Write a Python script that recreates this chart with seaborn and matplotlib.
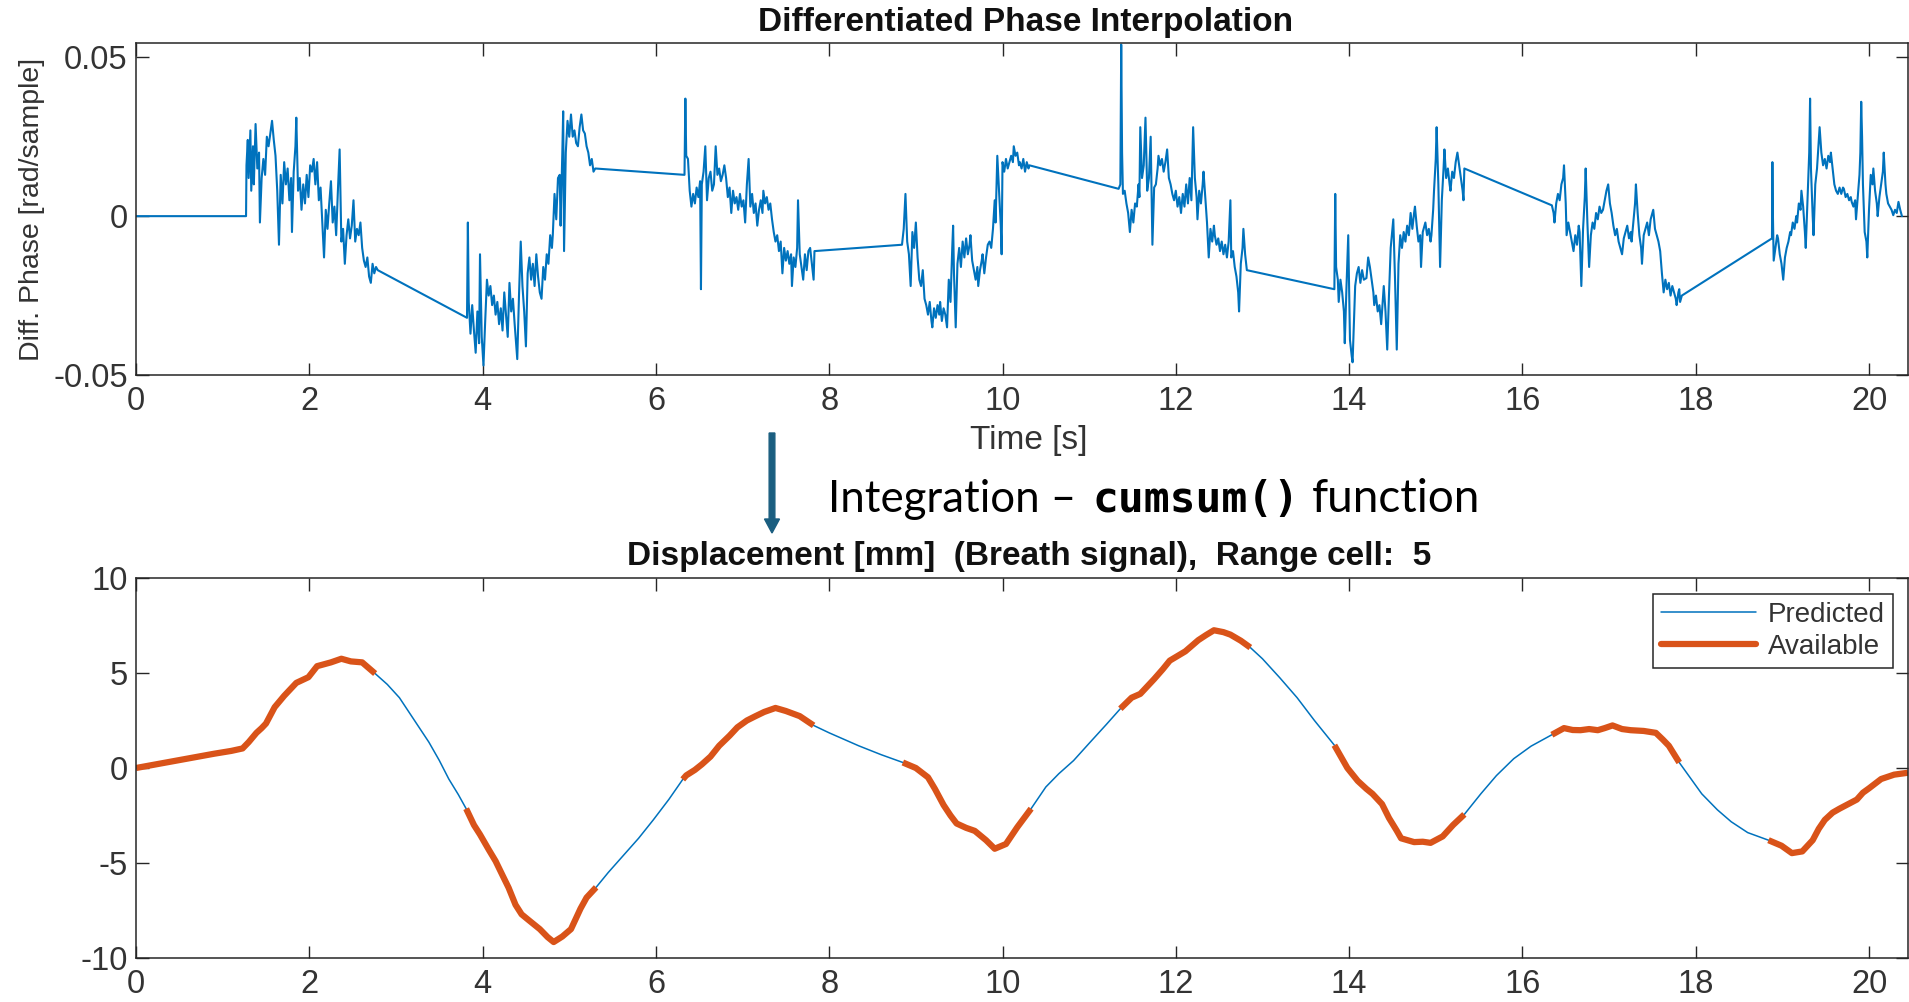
import numpy as np
import pandas as pd
import matplotlib
matplotlib.use("Agg")
import matplotlib.pyplot as plt
from matplotlib.lines import Line2D
import seaborn as sns

# ---------------- data ----------------
# Differentiated phase [rad/sample] vs time [s]
phase_t = [
    0.0, 1.27,
    1.275, 1.29, 1.30, 1.32, 1.33, 1.35, 1.36, 1.38, 1.40, 1.42, 1.43, 1.45, 1.47, 1.49, 1.51, 1.53,
    1.55, 1.57, 1.59, 1.61, 1.63, 1.65, 1.67, 1.69, 1.71, 1.73, 1.75, 1.77, 1.79, 1.80, 1.82, 1.84,
    1.85, 1.87, 1.89, 1.91, 1.93, 1.95, 1.97, 1.99, 2.01, 2.03, 2.05, 2.07, 2.09, 2.11, 2.13, 2.15,
    2.17, 2.19, 2.21, 2.23, 2.25, 2.27, 2.29, 2.31, 2.33, 2.35, 2.37, 2.39, 2.41, 2.43, 2.45, 2.47,
    2.49, 2.51, 2.53, 2.55, 2.57, 2.59, 2.61, 2.63, 2.65, 2.67, 2.69, 2.71, 2.73, 2.75, 2.77, 2.79,
    3.82, 3.83, 3.84, 3.86, 3.88, 3.90, 3.92, 3.94, 3.96, 3.97, 3.99, 4.01, 4.03, 4.05, 4.07, 4.09,
    4.11, 4.13, 4.15, 4.17, 4.19, 4.21, 4.23, 4.25, 4.27, 4.29, 4.31, 4.33, 4.35, 4.37, 4.40, 4.42,
    4.44, 4.46, 4.48, 4.50, 4.52, 4.54, 4.56, 4.58, 4.60, 4.62, 4.64, 4.66, 4.68, 4.70, 4.72, 4.74,
    4.76, 4.78, 4.80, 4.81, 4.83, 4.85, 4.87, 4.89, 4.90, 4.92, 4.93, 4.94, 4.96, 4.98, 5.00, 5.02,
    5.04, 5.06, 5.08, 5.10, 5.12, 5.14, 5.16, 5.18, 5.20, 5.22, 5.24, 5.26, 5.28, 5.30,
    6.33, 6.34, 6.35, 6.37, 6.39, 6.41, 6.43, 6.45, 6.47, 6.49, 6.51, 6.52, 6.53, 6.55, 6.57, 6.59,
    6.61, 6.63, 6.65, 6.67, 6.69, 6.71, 6.73, 6.75, 6.77, 6.79, 6.81, 6.83, 6.85, 6.87, 6.89, 6.91,
    6.93, 6.95, 6.97, 6.99, 7.01, 7.03, 7.05, 7.07, 7.09, 7.11, 7.13, 7.15, 7.17, 7.19, 7.21, 7.23,
    7.24, 7.26, 7.28, 7.30, 7.32, 7.34, 7.36, 7.38, 7.40, 7.42, 7.44, 7.46, 7.48, 7.50, 7.52, 7.54,
    7.56, 7.57, 7.59, 7.61, 7.63, 7.64, 7.66, 7.68, 7.70, 7.72, 7.74, 7.76, 7.78, 7.80, 7.82, 7.83,
    8.84, 8.86, 8.88, 8.90, 8.92, 8.94, 8.96, 8.98, 9.00, 9.02, 9.04, 9.06, 9.08, 9.10, 9.12, 9.14,
    9.16, 9.18, 9.19, 9.21, 9.23, 9.25, 9.27, 9.28, 9.30, 9.32, 9.34, 9.36, 9.38, 9.40, 9.42, 9.43,
    9.44, 9.46, 9.48, 9.50, 9.52, 9.54, 9.56, 9.58, 9.60, 9.62, 9.63, 9.65, 9.67, 9.69, 9.71, 9.72,
    9.74, 9.76, 9.77, 9.79, 9.81, 9.83, 9.85, 9.87, 9.89, 9.91, 9.92, 9.94, 9.96, 9.98, 9.99, 10.00,
    10.02, 10.04, 10.06, 10.08, 10.10, 10.12, 10.13, 10.15, 10.17, 10.19, 10.20, 10.22, 10.24, 10.26,
    10.28, 10.30, 10.31,
    11.34, 11.36, 11.37, 11.38, 11.39, 11.41, 11.43, 11.45, 11.47, 11.49, 11.51, 11.53, 11.55, 11.57,
    11.58, 11.59, 11.61, 11.63, 11.65, 11.67, 11.69, 11.71, 11.73, 11.75, 11.77, 11.79, 11.80, 11.82,
    11.84, 11.86, 11.88, 11.90, 11.92, 11.94, 11.96, 11.98, 12.00, 12.02, 12.04, 12.06, 12.08, 12.10,
    12.12, 12.14, 12.16, 12.18, 12.20, 12.22, 12.24, 12.25, 12.27, 12.29, 12.31, 12.32, 12.34, 12.36,
    12.38, 12.40, 12.42, 12.44, 12.45, 12.47, 12.49, 12.51, 12.53, 12.55, 12.57, 12.59, 12.61, 12.63,
    12.64, 12.66, 12.68, 12.70, 12.72, 12.73, 12.75, 12.77, 12.78, 12.80, 12.82,
    13.83, 13.84, 13.85, 13.87, 13.88, 13.90, 13.92, 13.94, 13.95, 13.97, 13.99, 14.01, 14.03, 14.04,
    14.06, 14.07, 14.09, 14.11, 14.13, 14.15, 14.17, 14.20, 14.22, 14.24, 14.26, 14.28, 14.29, 14.31,
    14.33, 14.35, 14.37, 14.39, 14.40, 14.42, 14.44, 14.46, 14.48, 14.50, 14.51, 14.53, 14.55, 14.57,
    14.59, 14.61, 14.63, 14.65, 14.67, 14.69, 14.71, 14.73, 14.75, 14.76, 14.78, 14.80, 14.82, 14.83,
    14.85, 14.87, 14.88, 14.90, 14.92, 14.94, 14.95, 14.97, 14.98, 15.00, 15.01, 15.03, 15.05, 15.07,
    15.09, 15.10, 15.12, 15.14, 15.16, 15.17, 15.19, 15.21, 15.23, 15.25, 15.27, 15.29, 15.31, 15.32,
    15.33,
    16.34, 16.36, 16.37, 16.39, 16.41, 16.43, 16.45, 16.47, 16.48, 16.50, 16.51, 16.53, 16.55, 16.57,
    16.59, 16.61, 16.63, 16.65, 16.66, 16.68, 16.70, 16.72, 16.73, 16.75, 16.77, 16.79, 16.81, 16.83,
    16.85, 16.87, 16.89, 16.91, 16.93, 16.95, 16.97, 16.99, 17.01, 17.03, 17.05, 17.07, 17.09, 17.11,
    17.13, 17.15, 17.17, 17.19, 17.21, 17.23, 17.25, 17.26, 17.28, 17.30, 17.31, 17.33, 17.35, 17.37,
    17.38, 17.40, 17.42, 17.44, 17.46, 17.48, 17.50, 17.51, 17.53, 17.55, 17.57, 17.59, 17.61, 17.63,
    17.65, 17.67, 17.69, 17.71, 17.73, 17.75, 17.77, 17.78, 17.80, 17.81, 17.82, 17.84,
    18.88, 18.885, 18.89, 18.90, 18.92, 18.94, 18.95, 18.97, 18.99, 19.01, 19.03, 19.05, 19.07, 19.09,
    19.10, 19.12, 19.14, 19.16, 19.17, 19.19, 19.21, 19.22, 19.24, 19.26, 19.27, 19.29, 19.31, 19.32,
    19.33, 19.35, 19.36, 19.38, 19.40, 19.42, 19.43, 19.45, 19.47, 19.49, 19.51, 19.53, 19.55, 19.56,
    19.58, 19.60, 19.62, 19.64, 19.66, 19.68, 19.70, 19.71, 19.73, 19.75, 19.77, 19.79, 19.80, 19.82,
    19.84, 19.85, 19.87, 19.89, 19.90, 19.91, 19.92, 19.93, 19.95, 19.97, 19.98, 20.00, 20.02, 20.04,
    20.05, 20.07, 20.09, 20.10, 20.12, 20.14, 20.16, 20.17, 20.19, 20.20, 20.22, 20.24, 20.26, 20.28,
    20.30, 20.32, 20.34, 20.36, 20.38,
]
phase_v = [
    0.0, 0.0,
    0.016, 0.024, 0.012, 0.027, 0.008, 0.022, 0.010, 0.029, 0.015, 0.020, -0.002, 0.012, 0.018, 0.013, 0.025, 0.022,
    0.026, 0.030, 0.024, 0.019, 0.008, -0.009, 0.013, 0.004, 0.017, 0.010, 0.015, 0.005, 0.012, -0.005, 0.014, 0.022,
    0.031, 0.008, 0.012, 0.002, 0.010, 0.004, 0.013, 0.006, 0.016, 0.014, 0.018, 0.010, 0.017, 0.005, 0.009, -0.002,
    -0.013, 0.002, -0.004, 0.004, 0.011, -0.002, 0.003, -0.006, 0.008, 0.021, -0.008, -0.004, -0.015, -0.006, -0.001, -0.007,
    -0.003, 0.005, -0.008, -0.004, -0.006, -0.002, -0.010, -0.014, -0.016, -0.013, -0.019, -0.021, -0.015, -0.018, -0.016, -0.017,
    -0.032, -0.002, -0.027, -0.037, -0.028, -0.036, -0.043, -0.030, -0.040, -0.012, -0.038, -0.047, -0.033, -0.020, -0.025, -0.022,
    -0.028, -0.025, -0.031, -0.027, -0.034, -0.029, -0.036, -0.024, -0.031, -0.038, -0.021, -0.030, -0.026, -0.034, -0.045, -0.025,
    -0.008, -0.022, -0.030, -0.041, -0.018, -0.013, -0.020, -0.015, -0.022, -0.012, -0.019, -0.024, -0.026, -0.016, -0.020, -0.012,
    -0.015, -0.006, -0.010, -0.006, 0.007, -0.001, 0.012, 0.013, -0.003, 0.020, 0.033, -0.011, 0.020, 0.030, 0.025, 0.032,
    0.025, 0.027, 0.023, 0.022, 0.028, 0.032, 0.027, 0.026, 0.022, 0.020, 0.016, 0.018, 0.014, 0.015,
    0.013, 0.037, 0.019, 0.018, 0.008, 0.003, 0.007, 0.004, 0.009, 0.006, 0.011, -0.023, 0.010, 0.014, 0.022, 0.005,
    0.012, 0.014, 0.008, 0.010, 0.022, 0.013, 0.015, 0.011, 0.013, 0.016, 0.012, 0.006, 0.009, 0.001, 0.008, 0.004,
    0.006, 0.002, 0.007, 0.003, 0.005, -0.002, 0.010, 0.018, 0.003, 0.007, 0.001, 0.004, -0.003, 0.002, 0.005, 0.001,
    0.008, 0.004, 0.006, 0.002, 0.004, -0.001, -0.005, -0.008, -0.006, -0.011, -0.008, -0.018, -0.010, -0.014, -0.011, -0.015,
    -0.012, -0.022, -0.013, -0.016, -0.010, 0.005, -0.012, -0.016, -0.020, -0.012, -0.017, -0.011, -0.010, -0.015, -0.020, -0.011,
    -0.009, -0.004, 0.007, -0.008, -0.012, -0.022, -0.005, -0.010, -0.002, -0.013, -0.020, -0.022, -0.017, -0.026, -0.028, -0.031,
    -0.027, -0.033, -0.035, -0.029, -0.032, -0.028, -0.031, -0.027, -0.033, -0.029, -0.031, -0.035, -0.020, -0.027, -0.010, -0.003,
    -0.018, -0.035, -0.015, -0.010, -0.016, -0.008, -0.013, -0.007, -0.012, -0.009, -0.006, -0.014, -0.017, -0.020, -0.016, -0.022,
    -0.017, -0.014, -0.012, -0.018, -0.013, -0.009, -0.008, -0.010, -0.004, 0.005, -0.002, 0.019, 0.008, -0.003, -0.012, 0.017,
    0.014, 0.018, 0.015, 0.017, 0.019, 0.017, 0.022, 0.019, 0.020, 0.016, 0.017, 0.015, 0.018, 0.014,
    0.017, 0.015, 0.016,
    0.0086, 0.010, 0.054, 0.020, 0.007, 0.008, 0.004, 0.001, -0.005, 0.002, -0.002, 0.004, 0.003, 0.010,
    0.006, 0.028, 0.012, 0.016, 0.031, 0.008, 0.012, 0.025, -0.009, 0.009, 0.010, 0.015, 0.019, 0.016,
    0.018, 0.014, 0.017, 0.021, 0.012, 0.010, 0.007, 0.005, 0.008, 0.003, 0.006, 0.001, 0.007, 0.003,
    0.010, 0.004, 0.012, 0.005, 0.028, 0.012, 0.006, -0.001, 0.008, 0.004, 0.010, 0.014, 0.006, -0.002,
    -0.013, -0.004, -0.008, -0.003, -0.006, -0.009, -0.007, -0.011, -0.008, -0.012, -0.009, -0.013, -0.008, 0.005,
    -0.013, -0.011, -0.016, -0.019, -0.024, -0.030, -0.015, -0.010, -0.004, -0.012, -0.017,
    -0.023, 0.007, -0.016, -0.020, -0.027, -0.020, -0.024, -0.030, -0.040, -0.022, -0.006, -0.039, -0.044, -0.046,
    -0.030, -0.022, -0.018, -0.016, -0.021, -0.017, -0.020, -0.0195, -0.013, -0.016, -0.020, -0.024, -0.028, -0.025,
    -0.030, -0.028, -0.034, -0.026, -0.022, -0.030, -0.042, -0.025, -0.010, -0.004, -0.001, -0.020, -0.042, -0.015,
    -0.006, -0.010, -0.005, -0.008, -0.003, -0.006, 0.001, -0.004, 0.001, 0.003, -0.003, -0.008, -0.006, -0.016,
    -0.005, -0.003, -0.002, -0.006, -0.004, -0.008, -0.006, 0.002, 0.008, 0.018, 0.028, 0.010, -0.016, 0.005,
    0.015, 0.021, 0.012, 0.015, 0.010, 0.008, 0.014, 0.012, 0.017, 0.020, 0.016, 0.012, 0.008, 0.005,
    0.015,
    0.0034, 0.001, -0.002, 0.004, 0.007, 0.005, 0.010, 0.012, 0.016, 0.004, -0.006, -0.002, -0.005, -0.008,
    -0.011, -0.006, -0.009, -0.003, -0.005, -0.022, -0.004, 0.006, 0.015, -0.002, -0.016, -0.006, -0.002, -0.004,
    0.001, -0.001, 0.003, 0.001, 0.002, 0.005, 0.008, 0.010, 0.004, 0.001, -0.003, -0.006, -0.004, -0.008,
    -0.010, -0.012, -0.007, -0.005, -0.003, -0.007, -0.005, -0.008, -0.002, 0.004, 0.010, 0.001, -0.006, -0.010,
    -0.015, -0.006, -0.004, -0.002, -0.006, -0.001, 0.001, 0.002, -0.004, -0.006, -0.008, -0.011, -0.018, -0.024,
    -0.020, -0.023, -0.021, -0.025, -0.022, -0.024, -0.026, -0.028, -0.024, -0.023, -0.027, -0.025,
    -0.007, 0.017, 0.002, -0.014, -0.010, -0.006, -0.007, -0.012, -0.015, -0.020, -0.013, -0.010, -0.008, -0.005,
    -0.006, -0.002, -0.004, 0.000, -0.002, 0.004, 0.002, 0.008, 0.003, -0.005, -0.010, 0.005, 0.020, 0.037,
    0.015, 0.000, -0.006, 0.010, 0.015, 0.024, 0.028, 0.020, 0.016, 0.018, 0.015, 0.019, 0.017, 0.020,
    0.015, 0.010, 0.008, 0.007, 0.009, 0.007, 0.009, 0.0086, 0.006, 0.007, 0.005, 0.006, 0.0045, 0.003,
    0.005, -0.001, 0.006, 0.013, 0.020, 0.036, 0.025, 0.010, -0.005, -0.008, -0.013, 0.002, 0.013, 0.010,
    0.015, 0.008, 0.004, 0.000, 0.006, 0.010, 0.014, 0.020, 0.010, 0.007, 0.004, 0.003, 0.002, 0.0003,
    0.002, 0.001, 0.0045, 0.002, 0.000,
]

# Displacement [mm] vs time [s]
disp_t = [
    0.0, 0.3, 0.6, 0.9, 1.1, 1.23, 1.3, 1.39, 1.45, 1.5, 1.6, 1.71, 1.85, 1.99, 2.09, 2.25, 2.37, 2.48, 2.61, 2.76,
    2.9, 3.04, 3.2, 3.38, 3.5, 3.61, 3.72, 3.81,
    3.9, 3.97, 4.07, 4.15, 4.23, 4.3, 4.38, 4.45, 4.53, 4.66, 4.75, 4.82, 4.92, 5.02, 5.13, 5.2, 5.31,
    5.45, 5.61, 5.8, 5.97, 6.15, 6.31,
    6.35, 6.45, 6.53, 6.63, 6.73, 6.85, 6.94, 7.05, 7.15, 7.25, 7.38, 7.5, 7.66, 7.82,
    8.0, 8.2, 8.34, 8.6, 8.85,
    9.0, 9.14, 9.22, 9.32, 9.4, 9.47, 9.58, 9.68, 9.81, 9.91, 10.04, 10.17, 10.33,
    10.5, 10.65, 10.82, 11.0, 11.2, 11.36,
    11.49, 11.59, 11.75, 11.85, 11.93, 12.11, 12.26, 12.35, 12.44, 12.55, 12.63, 12.75, 12.86,
    13.0, 13.2, 13.4, 13.6, 13.83,
    13.98, 14.1, 14.2, 14.27, 14.38, 14.46, 14.55, 14.6, 14.75, 14.85, 14.94, 15.08, 15.2, 15.33,
    15.52, 15.7, 15.9, 16.1, 16.34,
    16.48, 16.58, 16.67, 16.77, 16.87, 16.95, 17.04, 17.15, 17.25, 17.4, 17.54, 17.62, 17.69, 17.81,
    17.95, 18.07, 18.25, 18.41, 18.6, 18.84,
    18.99, 19.11, 19.23, 19.35, 19.42, 19.49, 19.58, 19.66, 19.76, 19.86, 19.93, 20.0, 20.14, 20.29, 20.45,
]
disp_y = [
    0.0, 0.25, 0.5, 0.75, 0.9, 1.03, 1.36, 1.85, 2.1, 2.34, 3.2, 3.8, 4.48, 4.78, 5.36, 5.56, 5.75, 5.61, 5.56, 4.97,
    4.4, 3.7, 2.6, 1.36, 0.4, -0.58, -1.4, -2.14,
    -3.0, -3.5, -4.29, -4.9, -5.65, -6.3, -7.2, -7.7, -8.0, -8.48, -8.9, -9.16, -8.87, -8.48, -7.4, -6.82, -6.28,
    -5.5, -4.68, -3.7, -2.73, -1.65, -0.6,
    -0.39, -0.1, 0.19, 0.6, 1.17, 1.7, 2.14, 2.5, 2.73, 2.95, 3.16, 3.0, 2.73, 2.24,
    1.85, 1.45, 1.17, 0.7, 0.29,
    0.0, -0.49, -1.1, -1.95, -2.5, -2.92, -3.15, -3.31, -3.8, -4.25, -4.0, -3.12, -2.14,
    -1.0, -0.3, 0.39, 1.3, 2.3, 3.12,
    3.7, 3.9, 4.68, 5.2, 5.65, 6.14, 6.73, 7.0, 7.25, 7.15, 7.02, 6.7, 6.34,
    5.75, 4.75, 3.7, 2.5, 1.2,
    0.0, -0.68, -1.1, -1.36, -1.9, -2.63, -3.3, -3.7, -3.9, -3.88, -3.94, -3.6, -3.0, -2.44,
    -1.36, -0.4, 0.49, 1.15, 1.75,
    2.1, 2.0, 1.99, 2.05, 1.99, 2.1, 2.24, 2.05, 1.99, 1.95, 1.85, 1.5, 1.17, 0.29,
    -0.6, -1.36, -2.2, -2.83, -3.4, -3.8,
    -4.09, -4.48, -4.39, -3.8, -3.2, -2.73, -2.35, -2.14, -1.9, -1.66, -1.3, -1.07, -0.58, -0.35, -0.25,
]
# time intervals where measured ("Available") data exist
avail_start = [0.0, 3.81, 6.31, 8.85, 11.36, 13.83, 16.34, 18.84]
avail_end = [2.76, 5.31, 7.82, 10.33, 12.86, 15.33, 17.81, 20.45]

x_ticks = [0, 2, 4, 6, 8, 10, 12, 14, 16, 18, 20]
phase_ticks = [-0.05, 0, 0.05]
phase_ticklabels = ["-0.05", "0", "0.05"]
disp_ticks = [-10, -5, 0, 5, 10]
disp_ticklabels = ["-10", "-5", "0", "5", "10"]

# ---------------- style ----------------
BLUE = "#0072BD"
ORANGE = "#D95319"
AXC = "#262626"
TXT = "#333333"

sns.set_theme(style="white")
plt.rcParams["font.family"] = ["Liberation Sans", "DejaVu Sans"]
plt.rcParams["axes.unicode_minus"] = False

W, H = 1909, 1002
fig = plt.figure(figsize=(W / 100, H / 100), dpi=100)
fig.patch.set_facecolor("white")


def axrect(l, t, r, b):
    return [l / W, 1 - b / H, (r - l) / W, (b - t) / H]


ax1 = fig.add_axes(axrect(136, 43, 1908, 375))
ax2 = fig.add_axes(axrect(136, 578, 1908, 958))

# top: differentiated phase
df_phase = pd.DataFrame({"t": phase_t, "v": phase_v})
sns.lineplot(data=df_phase, x="t", y="v", ax=ax1, color=BLUE, lw=1.5,
             estimator=None, sort=False, legend=False)

# bottom: displacement
df_disp = pd.DataFrame({"t": disp_t, "y": disp_y})
sns.lineplot(data=df_disp, x="t", y="y", ax=ax2, color=BLUE, lw=1.1,
             estimator=None, sort=False, legend=False)
for s, e in zip(avail_start, avail_end):
    seg = df_disp[(df_disp["t"] >= s - 1e-9) & (df_disp["t"] <= e + 1e-9)]
    sns.lineplot(data=seg, x="t", y="y", ax=ax2, color=ORANGE, lw=4.5,
                 estimator=None, sort=False, legend=False,
                 solid_capstyle="butt", solid_joinstyle="round")

for ax in (ax1, ax2):
    ax.set_xlim(0, 20.45)
    ax.set_xticks(x_ticks)
    ax.set_xticklabels([str(v) for v in x_ticks])
    ax.set_xlabel("")
    ax.set_ylabel("")
    ax.set_facecolor("white")
    ax.grid(False)
    for sp in ax.spines.values():
        sp.set_visible(True)
        sp.set_color(AXC)
        sp.set_linewidth(1.1)
    ax.tick_params(direction="in", length=9, width=1.0, color=AXC,
                   labelcolor=TXT, labelsize=23.5,
                   bottom=True, top=True, left=True, right=True,
                   labelbottom=True, labeltop=False, labelleft=True, labelright=False)
    ax.tick_params(axis="x", pad=8)
    ax.tick_params(axis="y", pad=6)

ax1.set_ylim(-0.05, 0.0545)
ax1.set_yticks(phase_ticks)
ax1.set_yticklabels(phase_ticklabels)
ax2.set_ylim(-10, 10)
ax2.set_yticks(disp_ticks)
ax2.set_yticklabels(disp_ticklabels)

# texts
fig.text(1026 / W, 1 - 22 / H, "Differentiated Phase Interpolation", ha="center", va="center",
         fontsize=24, fontweight="bold", color="#111111")
fig.text(1029 / W, 1 - 440 / H, "Time [s]", ha="center", va="center", fontsize=24, color=TXT)
fig.text(32 / W, 1 - 209 / H, "Diff. Phase [rad/sample]", ha="center", va="center",
         rotation=90, fontsize=20.5, color=TXT)
fig.text(1029 / W, 1 - 557 / H, "Displacement [mm]  (Breath signal),  Range cell:  5",
         ha="center", va="center", fontsize=24, fontweight="bold", color="#111111")

# annotation: arrow + integration text
fig.patches.append(matplotlib.patches.FancyArrow(
    772 / W, 1 - 433 / H, 0, -(533 - 433 - 14) / H, width=3 / H, head_width=15 / W,
    head_length=14 / H, length_includes_head=False, color="#1a5e80",
    transform=fig.transFigure, figure=fig))
base_y = 1 - 512 / H
fig.text(828 / W, base_y, "Integration \u2013", ha="left", va="baseline", fontsize=31.5,
         family=["Lato", "DejaVu Sans"], color="black")
fig.text(1092 / W, base_y, "cumsum()", ha="left", va="baseline", fontsize=31,
         family=["DejaVu Sans Mono"], fontweight="bold", color="black")
fig.text(1312 / W, base_y, "function", ha="left", va="baseline", fontsize=33,
         family=["Lato", "DejaVu Sans"], color="black")

# legend
handles = [Line2D([0], [0], color=BLUE, lw=1.1), Line2D([0], [0], color=ORANGE, lw=4.5)]
leg = ax2.legend(handles, ["Predicted", "Available"], loc="upper right",
                 bbox_to_anchor=(0.9915, 0.958), borderaxespad=0, fontsize=20,
                 frameon=True, fancybox=False, framealpha=1, edgecolor=AXC,
                 handlelength=3.4, handletextpad=0.45, labelspacing=0.22,
                 borderpad=0.28, labelcolor=TXT)
leg.get_frame().set_linewidth(1.1)

fig.savefig("out.png", dpi=100, facecolor="white")
